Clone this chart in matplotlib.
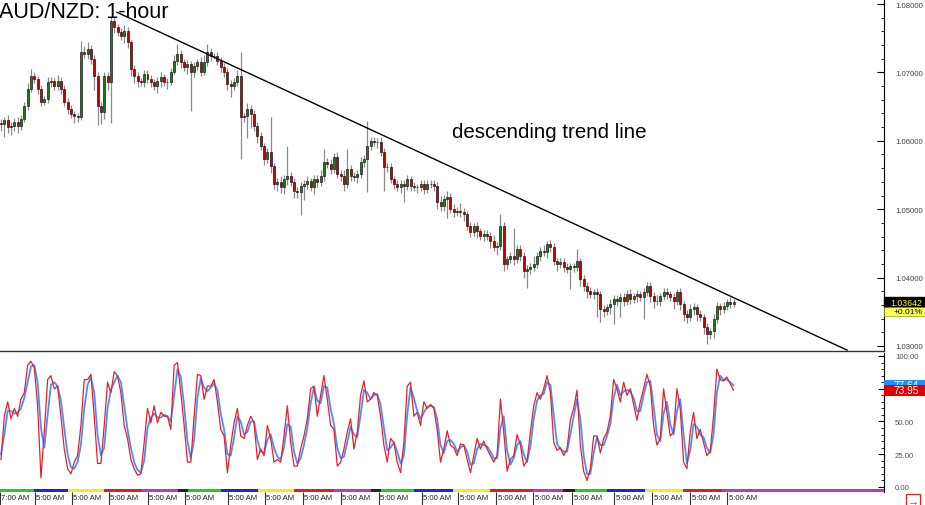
import numpy as np
import matplotlib
matplotlib.use("Agg")
import matplotlib.pyplot as plt
from matplotlib.patches import Rectangle
from matplotlib.ticker import MultipleLocator, FormatStrFormatter
import matplotlib.transforms as mtransforms

plt.rcParams['font.family'] = ['Liberation Sans', 'DejaVu Sans']

# ---------------- data ----------------
title = "AUD/NZD: 1-hour"
annotation = "descending trend line"

first_open = 1.0626
closes = [
    1.0624, 1.0630, 1.0620, 1.0622, 1.0628, 1.0622, 1.0632, 1.0651, 1.0676, 1.0695,
    1.0690, 1.0676, 1.0657, 1.0661, 1.0686, 1.0687, 1.0680, 1.0687, 1.0676, 1.0657,
    1.0647, 1.0639, 1.0636, 1.0635, 1.0730, 1.0727, 1.0734, 1.0720, 1.0695, 1.0651,
    1.0642, 1.0695, 1.0686, 1.0775, 1.0766, 1.0759, 1.0753, 1.0761, 1.0744, 1.0705,
    1.0695, 1.0687, 1.0686, 1.0698, 1.0690,
    1.0686, 1.0680, 1.0687, 1.0693, 1.0686, 1.0686, 1.0701, 1.0717, 1.0727, 1.0715,
    1.0708, 1.0712, 1.0701, 1.0709, 1.0715, 1.0701, 1.0715, 1.0730, 1.0724, 1.0724,
    1.0717, 1.0708, 1.0701, 1.0683, 1.0680, 1.0686, 1.0695, 1.0635, 1.0636, 1.0647,
    1.0639, 1.0622, 1.0607, 1.0592, 1.0573, 1.0584, 1.0563, 1.0537, 1.0540, 1.0532,
    1.0544, 1.0549, 1.0540, 1.0527, 1.0525,
    1.0534, 1.0537, 1.0541, 1.0532, 1.0544, 1.0540, 1.0549, 1.0569, 1.0566, 1.0559,
    1.0576, 1.0551, 1.0549, 1.0537, 1.0559, 1.0549, 1.0547, 1.0551, 1.0569, 1.0573,
    1.0592, 1.0600, 1.0598, 1.0598, 1.0584, 1.0562, 1.0562, 1.0544, 1.0537, 1.0532,
    1.0537, 1.0534, 1.0544, 1.0534, 1.0532, 1.0532, 1.0537, 1.0530, 1.0537, 1.0537,
    1.0534, 1.0511, 1.0505, 1.0515, 1.0518,
    1.0500, 1.0496, 1.0497, 1.0496, 1.0493, 1.0475, 1.0467, 1.0475, 1.0468, 1.0461,
    1.0464, 1.0461, 1.0454, 1.0445, 1.0446, 1.0475, 1.0420, 1.0427, 1.0432, 1.0427,
    1.0442, 1.0432, 1.0410, 1.0413, 1.0416, 1.0420, 1.0432, 1.0439, 1.0437, 1.0449,
    1.0445, 1.0424, 1.0420, 1.0423, 1.0416, 1.0413, 1.0417, 1.0416, 1.0424, 1.0398,
    1.0388, 1.0380, 1.0376, 1.0379, 1.0376,
    1.0354, 1.0351, 1.0357, 1.0361, 1.0369, 1.0366, 1.0372, 1.0366, 1.0376, 1.0369,
    1.0373, 1.0376, 1.0372, 1.0379, 1.0388, 1.0373, 1.0366, 1.0366, 1.0373, 1.0379,
    1.0376, 1.0372, 1.0366, 1.0379, 1.0361, 1.0347, 1.0342, 1.0354, 1.0357, 1.0347,
    1.0342, 1.0328, 1.0318, 1.0322, 1.0339, 1.0358, 1.0354, 1.0358, 1.0364, 1.0361,
    1.03642,
]

upper_wick_pips = [
    6, 5, 8, 5, 6, 7, 5, 6, 8, 10, 6, 5, 6, 5, 8, 6, 5, 9, 6, 5,
    5, 6, 5, 4, 16, 8, 10, 6, 5, 6, 5, 6, 6, 6, 8, 5, 6, 8, 5, 4,
    6, 5, 5, 6, 5,
    6, 5, 6, 8, 5, 6, 5, 8, 15, 6, 5, 6, 5, 6, 5, 8, 10, 12, 6, 5,
    6, 5, 6, 5, 6, 6, 8, 35, 5, 8, 5, 6, 5, 6, 5, 6, 51, 5, 6, 8,
    6, 44, 5, 6, 6,
    6, 5, 8, 5, 6, 6, 8, 19, 6, 8, 6, 8, 6, 8, 29, 6, 5, 6, 8, 6,
    37, 6, 5, 6, 8, 6, 5, 6, 5, 6, 5, 6, 6, 5, 6, 5, 6, 5, 6, 5,
    6, 6, 8, 6, 8,
    6, 8, 6, 12, 6, 5, 6, 5, 6, 5, 6, 5, 6, 8, 6, 18, 6, 5, 6, 41,
    6, 5, 6, 5, 6, 12, 5, 6, 8, 5, 6, 6, 5, 6, 5, 6, 5, 5, 18, 5,
    6, 5, 6, 5, 6,
    5, 6, 5, 8, 6, 5, 6, 5, 6, 8, 5, 6, 5, 6, 6, 5, 6, 8, 5, 6,
    6, 5, 6, 5, 6, 5, 6, 8, 6, 5, 6, 5, 6, 5, 8, 6, 5, 6, 5, 8,
    4,
]

lower_wick_pips = [
    10, 18, 8, 12, 8, 10, 6, 5, 6, 5, 6, 8, 6, 5, 6, 8, 5, 6, 7, 6,
    8, 6, 10, 8, 4, 6, 8, 8, 20, 28, 18, 10, 12, 60, 8, 6, 6, 10, 8, 10,
    10, 8, 6, 8, 6,
    8, 6, 10, 8, 6, 10, 5, 4, 6, 8, 6, 10, 58, 8, 6, 6, 5, 6, 8, 5,
    6, 8, 8, 8, 16, 6, 6, 61, 8, 32, 20, 8, 10, 6, 8, 6, 10, 8, 10, 8,
    10, 8, 6, 10, 8,
    34, 20, 8, 6, 10, 8, 6, 8, 6, 8, 6, 6, 8, 10, 6, 8, 6, 8, 6, 8,
    48, 6, 6, 8, 6, 35, 8, 6, 8, 6, 8, 23, 6, 8, 6, 8, 6, 8, 6, 6,
    8, 10, 8, 8, 28,
    6, 8, 6, 8, 10, 6, 8, 6, 10, 6, 8, 6, 10, 6, 12, 6, 10, 8, 6, 8,
    6, 8, 10, 25, 8, 6, 6, 8, 6, 8, 8, 6, 10, 6, 8, 6, 29, 8, 6, 10,
    8, 10, 6, 8, 34,
    19, 8, 6, 10, 29, 8, 24, 8, 6, 8, 6, 8, 6, 32, 6, 8, 10, 6, 8, 6,
    8, 6, 12, 6, 8, 10, 8, 6, 8, 10, 6, 10, 15, 8, 10, 6, 8, 6, 6, 6,
    4,
]

stoch_k = [
    21, 54, 65, 52, 60, 54, 67, 72, 93, 96, 91, 62, 7, 42, 82, 85, 75, 77, 54, 29,
    14, 10, 19, 24, 47, 82, 82, 86, 54, 18, 18, 47, 80, 72, 88, 85, 72, 47, 37, 21,
    14, 9, 10, 34, 60, 49, 62, 49, 57, 54, 54, 44, 93, 95, 72, 47, 19, 19, 54, 86,
    85, 67, 77, 77, 82, 65, 44, 39, 11, 32, 49, 60, 39, 37, 47, 54, 49, 21, 29, 24,
    47, 37, 19, 21, 19, 39, 62, 34, 16, 16, 29, 39, 52, 75, 77, 54, 70, 85, 67, 47,
    44, 16, 19, 29, 42, 52, 29, 42, 70, 81, 65, 67, 72, 70, 54, 32, 19, 37, 34, 19,
    11, 34, 77, 80, 54, 57, 47, 65, 60, 63, 60, 44, 19, 29, 43, 32, 30, 24,
    33, 32, 21, 11, 24, 37, 29, 35, 29, 24, 19, 24, 67, 42, 12, 21, 24, 40, 32, 16,
    20, 42, 62, 72, 67, 75, 85, 72, 34, 28, 30, 24, 29, 51, 60, 74, 32, 12, 5, 14,
    39, 39, 26, 37, 42, 54, 82, 75, 65, 80, 70, 75, 63, 51, 65, 75, 86, 77, 47, 32,
    37, 75, 57, 39, 42, 75, 60, 19, 14, 42, 57, 37, 44, 34, 24, 27, 54, 90, 82, 81,
    84, 79, 73.95,
]

stoch_d = [
    25, 40, 58, 58, 56, 57, 60, 68, 80, 92, 93, 80, 45, 30, 55, 78, 80, 77, 66, 45,
    25, 15, 14, 19, 32, 60, 78, 84, 72, 40, 24, 30, 60, 74, 80, 85, 80, 62, 44, 30,
    19, 13, 11, 20, 45, 53, 56, 53, 53, 55, 54, 50, 70, 90, 84, 62, 35, 22, 36, 68,
    83, 76, 73, 76, 79, 74, 56, 44, 25, 24, 38, 54, 50, 40, 42, 50, 50, 36, 27, 26,
    36, 40, 30, 23, 21, 30, 48, 46, 27, 18, 22, 32, 45, 64, 76, 66, 64, 77, 76, 60,
    48, 30, 22, 23, 34, 46, 40, 38, 55, 74, 72, 67, 70, 71, 63, 45, 28, 30, 34, 27,
    18, 24, 55, 76, 68, 58, 52, 57, 61, 62, 61, 52, 32, 26, 35, 36, 33, 27,
    30, 32, 27, 17, 18, 29, 33, 32, 31, 27, 22, 22, 45, 54, 28, 17, 22, 32, 35, 25,
    19, 31, 52, 66, 70, 71, 80, 78, 55, 33, 29, 27, 27, 40, 54, 67, 52, 24, 10, 10,
    26, 38, 32, 32, 39, 48, 68, 78, 70, 73, 74, 73, 68, 58, 58, 70, 80, 81, 62, 40,
    35, 56, 65, 48, 40, 58, 67, 40, 18, 28, 48, 46, 40, 38, 30, 26, 40, 72, 85, 82,
    82, 80, 77.64,
]

trend_index = [34.8, 254.1]
trend_price = [1.0788, 1.0294]

last_price_label = "1.03642"
change_label = "+0.01%"
k_label = "73.95"
d_label = "77.64"

time_label_pos = [-0.3, 10.2, 21.3, 32.4, 44.1, 55.2, 68.1, 79.2, 90.6, 102,
                  113.4, 126.3, 137.4, 148.8, 159.9, 171.6, 184.2, 195.6, 207, 218.1]
time_labels = ["7:00 AM"] + ["5:00 AM"] * 19

day_edges = [-0.3, 9.9, 20.1, 30.9, 42, 53.1, 56.1, 66, 77.1, 87.9, 99.9, 111, 114,
             123.9, 135.9, 147, 159.9, 168.9, 172.5, 182.1, 193.5, 204.9, 216.6, 265.2]
G, B, Y, R, P, K = '#1fcf1f', '#2323d8', '#f0ec1e', '#dc2020', '#b83cc0', '#222222'
day_colors = [G, B, Y, R, P, K, G, B, Y, R, P, K, G, B, Y, R, P, K, G, B, Y, R, P]

# ---------------- figure ----------------
W, H = 925, 506
fig = plt.figure(figsize=(W / 100, H / 100), dpi=100)
fig.patch.set_facecolor('white')

def fb(top_px, bottom_px):
    return 1 - bottom_px / H, (bottom_px - top_px) / H

xr = 884 / W
XLIM = (-0.3, 265.2)

b, h = fb(0, 352)
ax = fig.add_axes([0, b, xr, h])
b2, h2 = fb(354, 490)
ax2 = fig.add_axes([0, b2, xr, h2])
b3, h3 = fb(490, 506)
ax3 = fig.add_axes([0, b3, xr, h3])

# ---- candles ----
n = min(len(closes), len(upper_wick_pips), len(lower_wick_pips))
c = np.array(closes[:n])
o = np.concatenate([[first_open], c[:-1]])
hi = np.maximum(o, c) + np.array(upper_wick_pips[:n]) * 0.0001
lo = np.minimum(o, c) - np.array(lower_wick_pips[:n]) * 0.0001
x = np.arange(n)

ax.vlines(x, lo, hi, color='#8a8a8a', lw=0.9, zorder=2)
up = c >= o
body_h = np.abs(c - o)
body_h = np.where(body_h < 0.00003, 0.00003, body_h)
ax.bar(x, body_h, bottom=np.minimum(o, c), width=0.6,
       color=np.where(up, '#1c7a1c', '#c40000'), edgecolor='black', linewidth=0.4, zorder=3)

ax.plot(trend_index, trend_price, color='black', lw=1.0, zorder=4)

ax.set_xlim(*XLIM)
ax.set_ylim(1.029269, 1.080731)
for s in ['left', 'top']:
    ax.spines[s].set_visible(False)
ax.spines['right'].set_color('black')
ax.spines['right'].set_linewidth(0.8)
ax.spines['bottom'].set_color('#333333')
ax.spines['bottom'].set_linewidth(1.0)
ax.set_xticks([])
ax.yaxis.tick_right()
ax.yaxis.set_major_locator(MultipleLocator(0.01))
ax.yaxis.set_minor_locator(MultipleLocator(0.002))
ax.yaxis.set_major_formatter(FormatStrFormatter('%.5f'))
ax.tick_params(axis='y', which='major', direction='in', length=5, width=0.8,
               labelsize=5.6, labelcolor='#444444', pad=8)
ax.tick_params(axis='y', which='minor', direction='in', length=2.5, width=0.6)

# price tags
tr = mtransforms.blended_transform_factory(ax.transAxes, ax.transData)
px_p = 1 / 6840.0
last = c[-1]
ax.add_patch(Rectangle((1.0, last - 5 * px_p), W / 884 - 1.0, 10 * px_p, transform=tr,
                       facecolor='black', edgecolor='black', clip_on=False, zorder=10))
ax.text(1.0 + 6 / 884, last, last_price_label, transform=tr, color='#ffff00', fontsize=6.3,
        va='center', ha='left', clip_on=False, zorder=11)
ax.add_patch(Rectangle((1.0, last - 13.5 * px_p), W / 884 - 1.0, 8.5 * px_p, transform=tr,
                       facecolor='#ffff55', edgecolor='#888800', lw=0.4, clip_on=False, zorder=10))
ax.text(1.0 + 10 / 884, last - 9.2 * px_p, change_label, transform=tr, color='black', fontsize=6,
        va='center', ha='left', clip_on=False, zorder=11)

# ---- stochastic ----
m = min(len(stoch_k), len(stoch_d))
xs = np.arange(m)
ax2.plot(xs, stoch_d[:m], color='#4f8dff', lw=1.3, zorder=2)
ax2.plot(xs, stoch_k[:m], color='#e5202a', lw=0.9, zorder=3)
ax2.set_xlim(*XLIM)
ax2.set_ylim(-1.53, 102.29)
for s in ['left', 'top', 'bottom']:
    ax2.spines[s].set_visible(False)
ax2.spines['right'].set_color('black')
ax2.spines['right'].set_linewidth(0.8)
ax2.set_xticks([])
ax2.yaxis.tick_right()
ax2.yaxis.set_major_locator(MultipleLocator(25))
ax2.yaxis.set_minor_locator(MultipleLocator(5))
ax2.yaxis.set_major_formatter(FormatStrFormatter('%.2f'))
ax2.tick_params(axis='y', which='major', direction='in', length=4, width=0.8,
                labelsize=5.6, labelcolor='#555555', pad=8)
ax2.tick_params(axis='y', which='minor', direction='in', length=2, width=0.6)

tr2 = mtransforms.blended_transform_factory(ax2.transAxes, ax2.transData)
pu = 1 / 1.31
dv, kv = stoch_d[m - 1], stoch_k[m - 1]
d_box = Rectangle((1.0, dv - 5.5 * pu), W / 884 - 1.0, 11 * pu, transform=tr2,
                  facecolor='#1e90ff', edgecolor='none', clip_on=False, zorder=10)
ax2.add_patch(d_box)
# visible strip of the blue tag above the red one
d_clip = Rectangle((1.0, kv + 5.5 * pu), W / 884 - 1.0, (dv + 5.5 * pu) - (kv + 5.5 * pu),
                   transform=tr2, facecolor='none', edgecolor='none')
d_txt = ax2.text(1.0 + 10 / 884, dv, d_label, transform=tr2, color='white', fontsize=7.3,
                 va='center', ha='left', zorder=11)
d_txt.set_clip_path(d_clip)
ax2.add_patch(Rectangle((1.0, kv - 5.5 * pu), W / 884 - 1.0, 11 * pu, transform=tr2,
                        facecolor='#dd0000', edgecolor='none', clip_on=False, zorder=12))
ax2.text(1.0 + 10 / 884, kv, k_label, transform=tr2, color='white', fontsize=7.3,
         va='center', ha='left', clip_on=False, zorder=13)

# ---- time strip ----
ax3.set_xlim(*XLIM)
ax3.set_ylim(16, 0)
ax3.axis('off')
for i, col in enumerate(day_colors):
    ax3.add_patch(Rectangle((day_edges[i], 0), day_edges[i + 1] - day_edges[i], 2.6,
                            facecolor=col, edgecolor='none'))
ax3.vlines(time_label_pos, 2.6, 16, color='#333333', lw=0.8)
for p, lab in zip(time_label_pos, time_labels):
    ax3.text(p + 0.45, 8.8, lab, fontsize=5.6, color='#222222', va='center', ha='left')
ax3.plot([XLIM[1], XLIM[1]], [0, 2.6], color='black', lw=0.8, clip_on=False)

# ---- texts ----
fig.text(-1 / W, 1 - 18.5 / H, title, fontsize=15.5, color='black', va='baseline', ha='left')
fig.text(452 / W, 1 - 138.5 / H, annotation, fontsize=14.8, color='black', va='baseline', ha='left')
fig.text(913 / W, 1 - 501 / H, '\u2192', fontsize=8, color='#dd2222', ha='center', va='center',
         fontweight='bold',
         bbox=dict(boxstyle='square,pad=0.12', fc='white', ec='#dd2222', lw=0.9))

fig.savefig('out.png', dpi=100, facecolor='white')
